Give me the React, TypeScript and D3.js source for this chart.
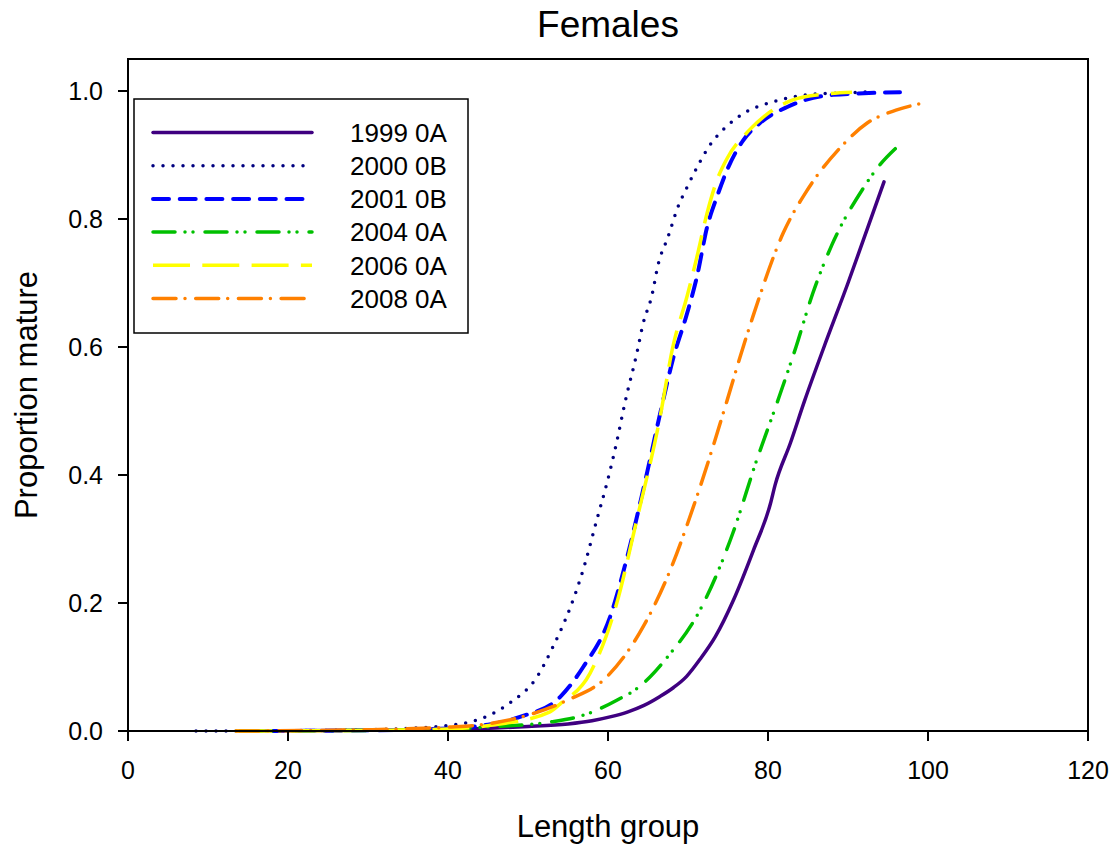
import * as d3 from "d3";
import React from "react";

// length group values (x) and proportion mature (y)
const s1999x = [14, 30, 40, 46.5, 50, 55, 58, 60.25, 62.5, 64.5, 66.5, 68.2, 69.8, 71.5, 73.4, 75.7, 78.2, 80.3, 80.9, 82.8, 84.6, 87, 90, 92, 94.5];
const s1999y = [0, 0.001, 0.002, 0.005, 0.007, 0.011, 0.016, 0.022, 0.03, 0.04, 0.054, 0.068, 0.085, 0.112, 0.147, 0.205, 0.283, 0.355, 0.385, 0.45, 0.517, 0.6, 0.7, 0.77, 0.858];

const s2000x = [8.5, 20, 30, 35, 40.25, 42.75, 45.25, 47.75, 51.1, 53.1, 55.25, 56.9, 58.6, 59.9, 61.1, 62.1, 63.6, 64.4, 65.5, 66.25, 67.5, 68.75, 69.9, 71.1, 72.5, 74.6, 77.1, 80.6, 85.6, 91.75, 93];
const s2000y = [0, 0.0005, 0.002, 0.004, 0.009, 0.014, 0.025, 0.044, 0.084, 0.131, 0.192, 0.252, 0.33, 0.389, 0.452, 0.512, 0.59, 0.637, 0.681, 0.728, 0.772, 0.819, 0.85, 0.88, 0.911, 0.942, 0.966, 0.983, 0.995, 0.998, 0.999];

const s2001x = [18, 30, 40, 45, 49, 54, 56.9, 60.25, 62.4, 64.4, 66.9, 68.1, 69.9, 71.1, 72.4, 73.6, 74.9, 76.9, 79, 82.4, 88.1, 96.5];
const s2001y = [0, 0.001, 0.004, 0.01, 0.022, 0.053, 0.1, 0.178, 0.272, 0.377, 0.517, 0.58, 0.653, 0.709, 0.788, 0.834, 0.877, 0.923, 0.95, 0.975, 0.994, 0.998];

const s2004x = [14, 30, 40, 46, 52.75, 57, 61.1, 64, 67.4, 71.5, 75.6, 78.5, 81.25, 83.5, 85.6, 88, 91.75, 94, 96];
const s2004y = [0, 0.001, 0.003, 0.007, 0.014, 0.025, 0.048, 0.07, 0.115, 0.189, 0.309, 0.42, 0.517, 0.6, 0.684, 0.76, 0.845, 0.885, 0.911];

const s2006x = [13.4, 30, 40, 46, 52.75, 54, 57.75, 61.1, 63.6, 66.5, 68.1, 69.9, 71.1, 72.4, 73.6, 74.9, 77.75, 80, 83.1, 87, 90.5];
const s2006y = [0, 0.001, 0.003, 0.01, 0.03, 0.042, 0.09, 0.2, 0.33, 0.49, 0.6, 0.68, 0.74, 0.81, 0.86, 0.895, 0.94, 0.965, 0.986, 0.995, 0.998];

const s2008x = [13.5, 30, 40, 43.6, 48.6, 54.9, 59.8, 64.4, 67.4, 71.1, 74.9, 76.5, 78.1, 81.9, 84.9, 89, 92.4, 96, 99.4];
const s2008y = [0, 0.002, 0.006, 0.009, 0.02, 0.048, 0.084, 0.163, 0.24, 0.366, 0.517, 0.584, 0.647, 0.778, 0.845, 0.911, 0.95, 0.97, 0.981];

const seriesNames = ["1999 0A", "2000 0B", "2001 0B", "2004 0A", "2006 0A", "2008 0A"];
const xTicks = [0, 20, 40, 60, 80, 100, 120];
const yTicks = [0, 0.2, 0.4, 0.6, 0.8, 1.0];

const styles = [
  { color: "#3f0080", width: 3.5, dash: null, cap: "round" },
  { color: "#000080", width: 3.5, dash: "0 10", cap: "round" },
  { color: "#0000ff", width: 4, dash: "16 10.7", cap: "round" },
  { color: "#00c000", width: 3.5, dash: "22 10 0 8 0 12", cap: "round" },
  { color: "#ffff00", width: 3.5, dash: "37 12.3", cap: "butt" },
  { color: "#ff8000", width: 3.5, dash: "23 9 0 10.7", cap: "round" },
];

export default function App() {
  const width = 1116;
  const height = 849;
  const margin = { top: 59, right: 28, bottom: 118, left: 128 };
  const w = width - margin.left - margin.right;
  const h = height - margin.top - margin.bottom;

  const x = d3.scaleLinear().domain([0, 120]).range([0, w]);
  const y = d3.scaleLinear().domain([0, 1.05]).range([h, 0]);

  const line = d3.line<[number, number]>()
    .x((d) => x(d[0]))
    .y((d) => y(d[1]))
    .curve(d3.curveMonotoneX);

  const datas: [number, number][][] = [
    s1999x.map((v, i) => [v, s1999y[i]]),
    s2000x.map((v, i) => [v, s2000y[i]]),
    s2001x.map((v, i) => [v, s2001y[i]]),
    s2004x.map((v, i) => [v, s2004y[i]]),
    s2006x.map((v, i) => [v, s2006y[i]]),
    s2008x.map((v, i) => [v, s2008y[i]]),
  ];

  const font = "'Liberation Sans', Arial, sans-serif";
  const transform = "translate(" + margin.left + "," + margin.top + ")";

  // legend box
  const lg = { x: 6, y: 40, w: 334, h: 234, row: 33.2, first: 33.5 };

  return (
    <svg width={width} height={height} style={{ position: "absolute", left: 0, top: 0 }} fontFamily={font}>
      <rect width={width} height={height} fill="#fff" />
      <text x={margin.left + w / 2} y={37} textAnchor="middle" fontSize={37}>Females</text>
      <g transform={transform}>
        {datas.map((d, i) => (
          <path key={i} d={line(d) || ""} fill="none" stroke={styles[i].color}
            strokeWidth={styles[i].width} strokeLinecap={styles[i].cap as any}
            strokeLinejoin="round" strokeDasharray={styles[i].dash || undefined} />
        ))}
        <rect x={0} y={0} width={w} height={h} fill="none" stroke="#000" strokeWidth={2} />
        {xTicks.map((t) => (
          <g key={"x" + t} transform={"translate(" + x(t) + ",0)"}>
            <line y1={h} y2={h + 10} stroke="#000" strokeWidth={2} />
            <text y={h + 48} textAnchor="middle" fontSize={25}>{t}</text>
          </g>
        ))}
        {yTicks.map((t) => (
          <g key={"y" + t} transform={"translate(0," + y(t) + ")"}>
            <line x1={-10} x2={0} stroke="#000" strokeWidth={2} />
            <text x={-25} dy="0.35em" textAnchor="end" fontSize={25}>{t.toFixed(1)}</text>
          </g>
        ))}
        <g transform={"translate(" + lg.x + "," + lg.y + ")"}>
          <rect width={lg.w} height={lg.h} fill="#fff" stroke="#000" strokeWidth={1.5} />
          {seriesNames.map((name, i) => {
            const ry = lg.first + i * lg.row;
            return (
              <g key={name}>
                <line x1={19} x2={178} y1={ry} y2={ry} stroke={styles[i].color}
                  strokeWidth={styles[i].width} strokeLinecap={styles[i].cap as any}
                  strokeDasharray={styles[i].dash || undefined} />
                <text x={216} y={ry} dy="0.36em" fontSize={26}>{name}</text>
              </g>
            );
          })}
        </g>
      </g>
      <text x={margin.left + w / 2} y={837} textAnchor="middle" fontSize={31}>Length group</text>
      <text transform={"translate(37," + (margin.top + h / 2) + ") rotate(-90)"} textAnchor="middle" fontSize={31}>Proportion mature</text>
    </svg>
  );
}
